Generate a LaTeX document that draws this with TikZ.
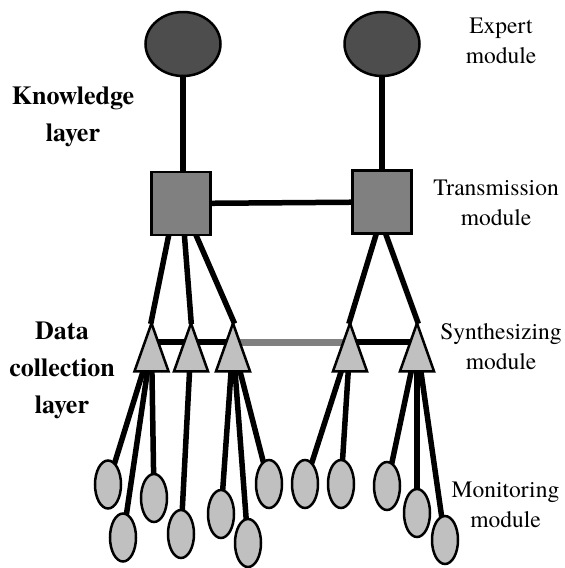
\documentclass[tikz,border=0pt]{standalone}
\usepackage{fontspec}
\setmainfont{texgyretermes}[Extension=.otf, UprightFont=*-regular,
  BoldFont=*-bold, ItalicFont=*-italic, BoldItalicFont=*-bolditalic]
\usepackage{tikz}
\usetikzlibrary{shapes.geometric,backgrounds}
\definecolor{ExpertGray}{HTML}{4D4D4D}
\definecolor{TransGray}{HTML}{808080}
\definecolor{LeafGray}{HTML}{C0C0C0}
\tikzset{
  expert/.style={ellipse, draw, line width=2.5pt, fill=ExpertGray,
                 minimum width=75, minimum height=64, inner sep=0},
  transmit/.style={rectangle, draw, line width=2.5pt, fill=TransGray,
                   minimum width=59, minimum height=63, inner sep=0},
  synth/.style={isosceles triangle, isosceles triangle stretches,
                shape border rotate=90, draw, line width=2.5pt, fill=LeafGray,
                minimum width=34, minimum height=48, inner sep=0, anchor=apex},
  monitor/.style={ellipse, draw, line width=2.5pt, fill=LeafGray,
                  minimum width=26, minimum height=48, inner sep=0},
  link/.style={line width=5.5pt},
  bridge/.style={line width=7pt, draw=TransGray},
  note/.style={align=center, font=\fontsize{23.5}{30}\selectfont},
  layername/.style={align=center, font=\bfseries\fontsize{26}{37}\selectfont}
}

\begin{document}
\begin{tikzpicture}[x=1pt, y=-1pt]
  \useasboundingbox (0,0) rectangle (565,568);
  % knowledge layer
  \node[expert] (ex1) at (183,44) {};
  \node[expert] (ex2) at (382,44) {};
  \node[transmit] (tr1) at (181,203.5) {};
  \node[transmit] (tr2) at (382,202) {};
  % data collection layer
  \node[synth] (sy1) at (151.5,320) {};
  \node[synth] (sy2) at (191,320) {};
  \node[synth] (sy3) at (233,320) {};
  \node[synth] (sy4) at (350,320) {};
  \node[synth] (sy5) at (417,320) {};
  \foreach \name/\x/\y in {mo1/108/484.5, mo2/123/537.5, mo3/154/498,
                           mo4/181/534, mo5/221/514, mo6/248/543,
                           mo7/269/484, mo8/305/484, mo9/341/484,
                           mo10/387/486, mo11/417/513, mo12/445/540}
    \node[monitor] (\name) at (\x,\y) {};
  % labels
  \node[note] (lexp) at (501,41) {Expert\\module};
  \node[note] (ltra) at (496,203) {Transmission\\module};
  \node[note] (lsyn) at (501,347) {Synthesizing\\module};
  \node[note] (lmon) at (505.5,505) {Monitoring\\module};
  \node[layername] (lknow) at (73,117) {Knowledge\\layer};
  \node[layername] (ldata) at (62,370) {Data\\collection\\layer};
  % connectors
  \begin{scope}[on background layer]
    \draw[link] (ex1.center) -- (ex1.center |- tr1.center);
    \draw[link] (ex2.center) -- (tr2.center);
    \draw[link] (tr1.center) -- (tr2.center);
    \draw[link, shorten <=-4pt, shorten >=-4pt] (sy1.apex) -- ([xshift=-12.5pt]tr1.south);
    \draw[link, shorten <=-4pt, shorten >=-4pt] (sy2.apex) -- ([xshift=3.5pt]tr1.south);
    \draw[link, shorten <=-4pt, shorten >=-4pt] (sy3.apex) -- ([xshift=15.5pt]tr1.south);
    \draw[link, shorten <=-4pt, shorten >=-4pt] (sy4.apex) -- ([xshift=-6pt]tr2.south);
    \draw[link, shorten <=-4pt, shorten >=-4pt] (sy5.apex) -- ([xshift=4pt]tr2.south);
    \draw[link] ([yshift=-22pt]sy1.apex) -- ([yshift=-22pt]sy3.apex);
    \draw[bridge] ([yshift=-22pt]sy3.apex) -- ([yshift=-22pt]sy4.apex);
    \draw[link] ([yshift=-22pt]sy4.apex) -- ([yshift=-22pt]sy5.apex);
    \foreach \m/\s in {mo1/sy1, mo2/sy1, mo3/sy1, mo4/sy2, mo5/sy3, mo6/sy3,
                       mo7/sy3, mo8/sy4, mo9/sy4, mo10/sy5, mo11/sy5, mo12/sy5}
      \draw[link] (\m.center) -- ([yshift=-24pt]\s.apex);
  \end{scope}
\end{tikzpicture}
\end{document}
